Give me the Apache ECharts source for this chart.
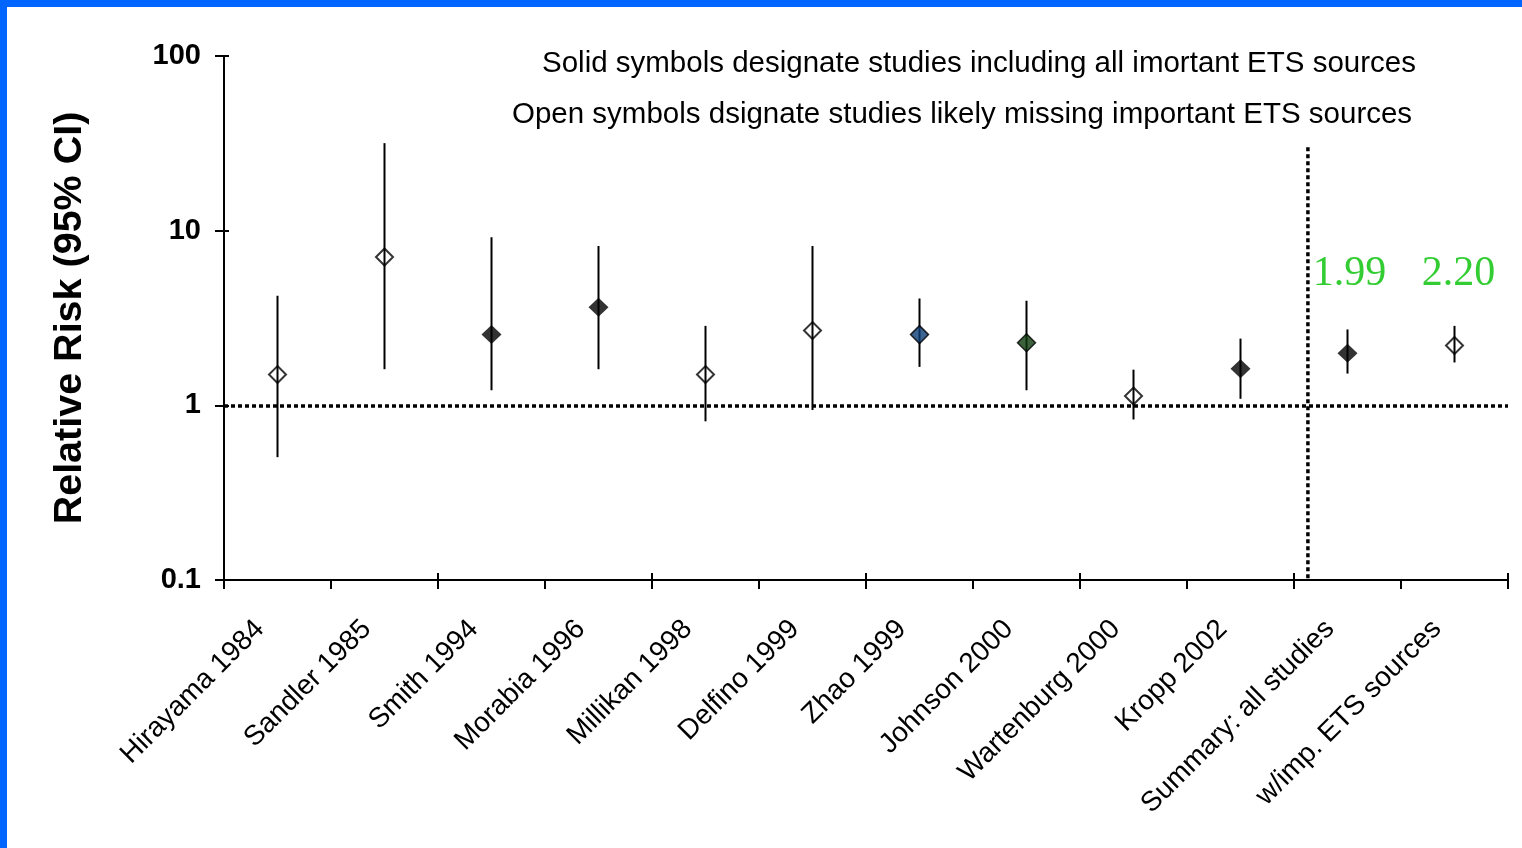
<!DOCTYPE html>
<html>
<head>
<meta charset="utf-8">
<script src="https://cdn.jsdelivr.net/npm/echarts@6/dist/echarts.min.js"></script>
<style>
  html, body { margin: 0; padding: 0; background: #fff; }
  #chart { position: absolute; left: 0; top: 0; width: 1522px; height: 848px; }
  .frame { position: absolute; background: #0066ff; }
</style>
</head>
<body>
<div id="chart"></div>
<div class="frame" style="left:0;top:0;width:1522px;height:7px"></div>
<div class="frame" style="left:0;top:0;width:7px;height:848px"></div>
<script>
// Studies of ETS exposure and relative risk, with 95% confidence intervals
const studies = [
  'Hirayama 1984', 'Sandler 1985', 'Smith 1994', 'Morabia 1996', 'Millikan 1998',
  'Delfino 1999', 'Zhao 1999', 'Johnson 2000', 'Wartenburg 2000', 'Kropp 2002',
  'Summary: all studies', 'w/imp. ETS sources'
];
const relRisk = [1.50, 7.07, 2.54, 3.64, 1.50, 2.68, 2.54, 2.28, 1.13, 1.62, 1.99, 2.20];
const ciLower = [0.505, 1.61, 1.22, 1.61, 0.81, 0.94, 1.66, 1.22, 0.83, 1.09, 1.52, 1.76];
const ciUpper = [4.24, 31.7, 9.17, 8.17, 2.85, 8.17, 4.09, 3.97, 1.60, 2.41, 2.72, 2.85];
// symbol kind: open = likely missing sources, solid/blue/green = all important sources
const symbolKind = ['open', 'open', 'solid', 'solid', 'open', 'open', 'blue', 'green', 'open', 'solid', 'solid', 'open'];
const yTicks = [0.1, 1, 10, 100];
const labeledPoints = [10, 11];
const noEffectRR = 1;
const dividerAt = 9.63;
const dividerTop = 30;

const SANS = 'Liberation Sans, Arial, sans-serif';
const SERIF = 'Liberation Serif, Times New Roman, serif';

const fills = { solid: '#000000', blue: '#0b3d78', green: '#0c3a0c' };
const dotted = { type: [4, 3], width: 3.5, color: '#000', cap: 'butt' };

function pointStyle(kind) {
  if (kind === 'open') {
    return { symbolSize: 17, itemStyle: { color: 'rgba(0,0,0,0)', borderColor: '#000', borderWidth: 2 } };
  }
  if (kind === 'solid') {
    return { symbolSize: [20, 19], itemStyle: { color: fills.solid, borderWidth: 0 } };
  }
  return { symbolSize: 18, itemStyle: { color: fills[kind], borderColor: '#000', borderWidth: 1.5 } };
}

const labelOffsets = { 10: [2, -79], 11: [4, -72] };

const pointData = relRisk.map((v, i) => {
  const st = pointStyle(symbolKind[i]);
  const item = { value: [i, v], symbolSize: st.symbolSize, itemStyle: st.itemStyle };
  if (labeledPoints.includes(i)) {
    item.label = {
      show: true,
      position: 'inside',
      offset: labelOffsets[i],
      formatter: p => p.value[1].toFixed(2),
      color: '#00c000',
      fontFamily: SERIF,
      fontSize: 42
    };
  }
  return item;
});

const ciData = studies.map((s, i) => [i, ciLower[i], ciUpper[i]]);

const chart = echarts.init(document.getElementById('chart'), null, { renderer: 'canvas' });

const option = {
  animation: false,
  backgroundColor: '#fff',
  grid: { left: 224, right: 14, top: 56, bottom: 268, containLabel: false },
  xAxis: [
    {
      type: 'category',
      data: studies,
      position: 'bottom',
      boundaryGap: true,
      axisLine: { onZero: false, lineStyle: { color: '#000', width: 2 } },
      axisTick: { show: true, length: 9, lineStyle: { color: '#000', width: 2 } },
      axisLabel: {
        interval: 0, rotate: 45, margin: 27,
        padding: [0, 25, 14, 0],
        color: '#000', fontFamily: SANS, fontSize: 28
      },
      splitLine: { show: false }
    },
    {
      type: 'category',
      data: studies,
      position: 'bottom',
      offset: 0,
      boundaryGap: true,
      axisLine: { show: false, onZero: false },
      axisTick: { show: true, inside: true, length: 7, lineStyle: { color: '#000', width: 2 } },
      axisLabel: { show: false },
      splitLine: { show: false }
    },
    {
      type: 'value',
      min: -0.5, max: studies.length - 0.5,
      show: false,
      axisLine: { onZero: false }
    }
  ],
  yAxis: [
    {
      type: 'log',
      logBase: 10,
      min: yTicks[0],
      max: yTicks[yTicks.length - 1],
      position: 'left',
      axisLine: { show: true, onZero: false, lineStyle: { color: '#000', width: 2 } },
      axisTick: { show: true, length: 9, lineStyle: { color: '#000', width: 2 } },
      axisLabel: {
        margin: 23, color: '#000', fontFamily: SANS, fontSize: 29, fontWeight: 'bold',
        formatter: v => String(+Number(v).toPrecision(3))
      },
      splitLine: { show: false },
      minorTick: { show: false },
      name: 'Relative Risk (95% CI)',
      nameLocation: 'middle',
      nameGap: 134,
      nameTextStyle: { color: '#000', fontFamily: SANS, fontSize: 39.5, fontWeight: 'bold' }
    },
    {
      type: 'log',
      logBase: 10,
      min: yTicks[0],
      max: yTicks[yTicks.length - 1],
      position: 'left',
      offset: 0,
      axisLine: { show: false, onZero: false },
      axisTick: { show: true, inside: true, length: 5, lineStyle: { color: '#000', width: 2 } },
      axisLabel: { show: false },
      splitLine: { show: false }
    }
  ],
  graphic: [
    {
      type: 'text', x: 542, y: 64,
      style: {
        text: 'Solid symbols designate studies including all imortant ETS sources',
        font: '29.5px ' + SANS, fill: '#000', align: 'left', verticalAlign: 'middle'
      }
    },
    {
      type: 'text', x: 512, y: 115,
      style: {
        text: 'Open symbols dsignate studies likely missing important ETS sources',
        font: '29.5px ' + SANS, fill: '#000', align: 'left', verticalAlign: 'middle'
      }
    }
  ],
  series: [
    {
      name: 'divider',
      type: 'line',
      xAxisIndex: 2,
      yAxisIndex: 0,
      data: [[dividerAt, dividerTop], [dividerAt, yTicks[0]]],
      symbol: 'none',
      lineStyle: dotted,
      silent: true,
      z: 1
    },
    {
      name: 'ci',
      type: 'custom',
      xAxisIndex: 0,
      yAxisIndex: 0,
      data: ciData,
      encode: { x: 0, y: [1, 2] },
      renderItem: (params, api) => {
        const i = api.value(0);
        const lo = api.coord([i, api.value(1)]);
        const hi = api.coord([i, api.value(2)]);
        return {
          type: 'line',
          shape: { x1: lo[0], y1: lo[1], x2: hi[0], y2: hi[1] },
          style: { stroke: '#000', lineWidth: 2 }
        };
      },
      silent: true,
      z: 2
    },
    {
      name: 'rr',
      type: 'scatter',
      xAxisIndex: 0,
      yAxisIndex: 0,
      symbol: 'diamond',
      data: pointData,
      z: 3,
      markLine: {
        silent: true,
        symbol: 'none',
        label: { show: false },
        lineStyle: dotted,
        data: [{ yAxis: noEffectRR }],
        z: 1
      }
    }
  ]
};

chart.setOption(option);
</script>
</body>
</html>
